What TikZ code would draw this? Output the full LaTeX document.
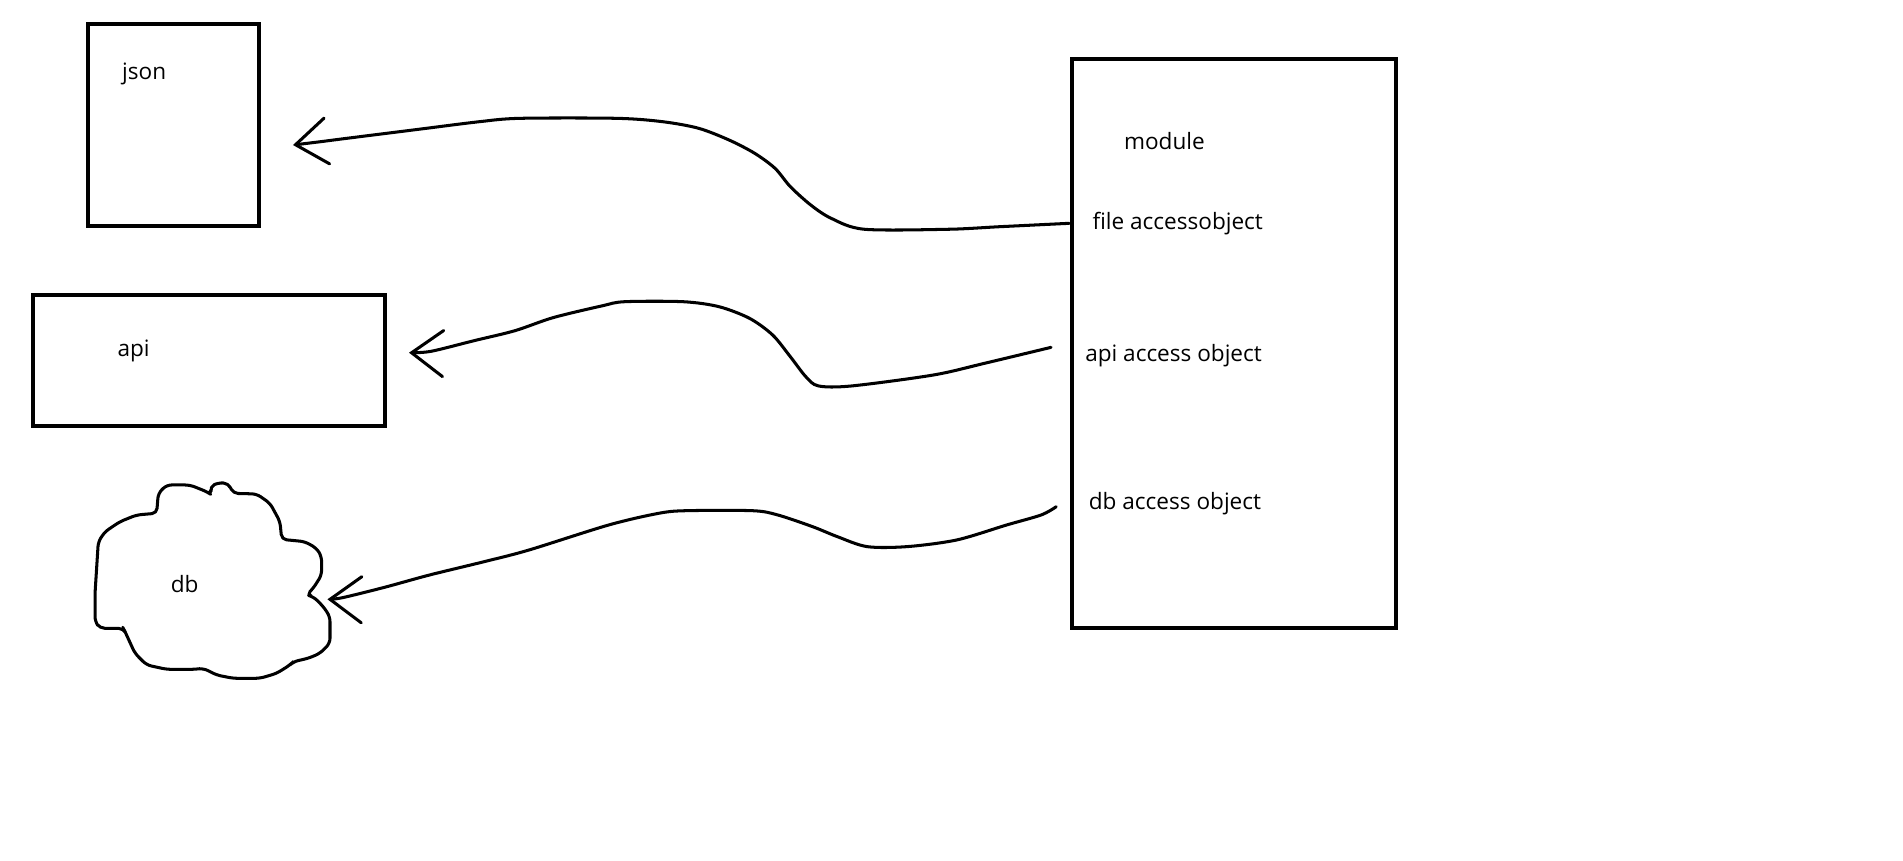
\documentclass[tikz,border=0pt]{standalone}
\usepackage{fontspec}
\setmainfont{Open Sans}
\usetikzlibrary{arrows.meta}

\tikzset{
  box/.style={draw, line width=3.3pt, inner sep=0pt},
  txt/.style={anchor=base west, inner sep=0pt, font=\fontsize{18.6}{20}\selectfont},
  flow/.style={line width=2.5pt, line cap=round, line join=round,
    -{Straight Barb[length=26pt, width=38pt, line cap=round]}},
}

\begin{document}
\begin{tikzpicture}[x=1pt, y=-1pt]
 \useasboundingbox (0,0) rectangle (1568,709);

 % the three stores
 \node[box, minimum width=141, minimum height=166.5] (json) at (143,103) {};
 \node[txt] (jsonlabel) at (100.5,65.9) {json};
 \node[box, minimum width=290.4, minimum height=108] (api) at (172.2,297.4) {};
 \node[txt] (apilabel) at (96.7,293.9) {api};

 \draw[line width=2.5pt, rounded corners=4pt, line join=round]
   (129.1,422.9) -- (130.4,406.5) -- (137.3,399.6) -- (156.5,399.6) -- (170.3,405.1)
   -- (174.4,407.8) -- (173,401) -- (179.9,397.7) -- (188.1,398.2) -- (192.2,406.5)
   -- (211.5,407) -- (222.5,414.7) -- (230.7,429.8) -- (232.1,444.4) -- (251.3,446.3)
   -- (260.9,451.8) -- (265,458.7) -- (265,473.8) -- (258.1,484.7) -- (252.7,490.2)
   -- (258.1,491.6) -- (266.4,499.8) -- (271.9,508.1) -- (271.9,530) -- (263.7,538.3)
   -- (254,542.4) -- (241.7,545.2) -- (238.9,547.9) -- (228,554.8) -- (214.2,558.9)
   -- (192.2,558.9) -- (178.5,556.2) -- (167.5,550.6) -- (160.7,551.5) -- (137.3,551.5)
   -- (120.8,547.9) -- (111.2,538.3) -- (103,520.4) -- (101.6,517.7) -- (82.4,517.7)
   -- (78.3,512.2) -- (78.3,488.8) -- (79.7,466.9) -- (81,446.3) -- (86.5,438.1)
   -- (98.9,429.8) -- (112.6,424.3) -- cycle;
 \node[txt] (dblabel) at (140.6,488.3) {db};

 % module with its access objects
 \node[box, minimum width=267, minimum height=469] (module) at (1016.6,283) {};
 \node[txt] (modlabel) at (926,123) {module};
 \node[txt] (fileobj) at (900,189) {file accessobject};
 \node[txt] (apiobj) at (894,298) {api access object};
 \node[txt] (dbobj) at (897,420) {db access object};

 \coordinate (fileout) at (881,184);
 \coordinate (apiout) at (866,286.2);
 \coordinate (dbout) at (870.3,417.5);
 \coordinate (jsonin) at (241.4,119.5);
 \coordinate (apiin) at (337,290.6);
 \coordinate (dbin) at (269.8,493.8);

 \draw[flow] plot[smooth, tension=0.5] coordinates {(fileout) (823.6,186.8) (781.6,188.9)
   (712.2,188.9) (684.9,179.9) (668,168.9) (651.2,153.8) (638.6,138.7) (621.8,126.3)
   (600.8,115.4) (575.6,105.7) (546.2,100.3) (508.3,97.5) (428.4,97.5) (394.8,100.3)
   (344.4,106.6) (285.5,114) (264.5,116.7) (jsonin)};
 \draw[flow] plot[smooth, tension=0.5] coordinates {(apiout) (811,299.4) (769,309)
   (701.7,318) (674.4,318) (663.9,310.3) (651.2,293.9) (636.6,276) (617.6,262.3)
   (592.4,252.7) (563,248.6) (514.6,248.6) (495.7,252.1) (455.8,261.7) (424.2,272.5)
   (390.6,280.7) (355,289.5) (apiin)};
 \draw[flow] plot[smooth, tension=0.5] coordinates {(dbout) (857.9,424.3) (829.3,432.6)
   (788.3,444.9) (747.3,450.4) (714.5,450.4) (690,442.2) (669.4,433.9) (640.8,424.3)
   (620.2,420.8) (564.9,420.8) (542.4,423) (501.4,432.6) (435.8,453.2) (398.9,462.8)
   (353.8,473.8) (316.9,483.9) (282,492.5) (dbin)};
\end{tikzpicture}
\end{document}
